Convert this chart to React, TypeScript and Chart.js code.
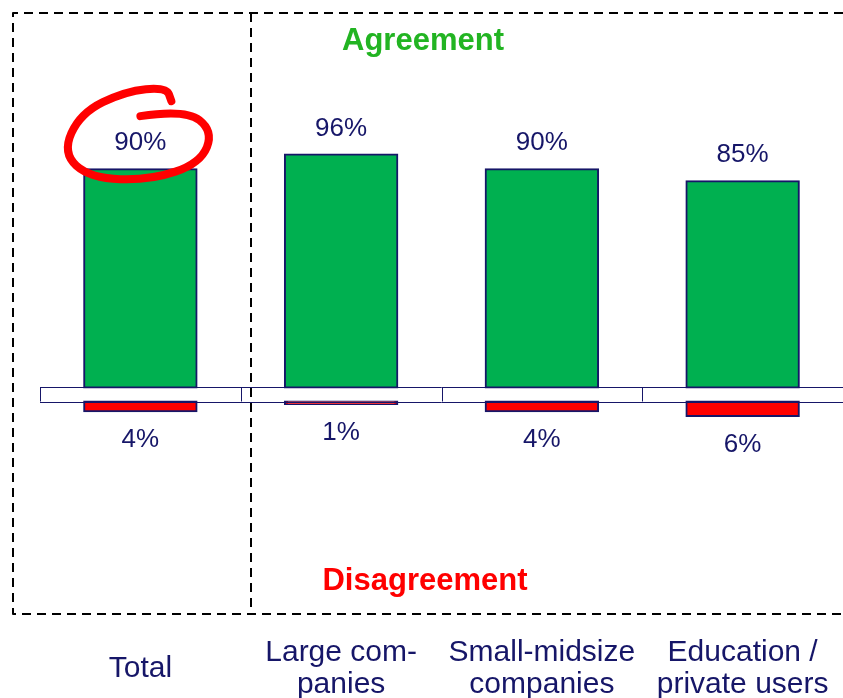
import React, { useEffect, useRef } from "react";
import { Chart, registerables } from "chart.js";

Chart.register(...registerables);

const CATEGORIES: string[][] = [
  ["Total"],
  ["Large com-", "panies"],
  ["Small-midsize", "companies"],
  ["Education /", "private users"],
];
const AGREEMENT = [90, 96, 90, 85];
const DISAGREEMENT = [4, 1, 4, 6];
const GAP = 5.8; // visual gap (in % units) between the agreement and disagreement zones

const NAVY = "#161668";
const GREEN = "#00b050";
const RED = "#ff0000";
const FONT = "'Liberation Sans', Arial, sans-serif";

const decorPlugin = {
  id: "decor",
  afterDatasetsDraw(chart: any) {
    const ctx: CanvasRenderingContext2D = chart.ctx;
    const xs = chart.scales.x;
    const ys = chart.scales.y;
    const { left, right } = chart.chartArea;
    const y0 = ys.getPixelForValue(0);
    const y1 = ys.getPixelForValue(-GAP);

    ctx.save();
    // band
    ctx.strokeStyle = NAVY;
    ctx.lineWidth = 1;
    ctx.beginPath();
    ctx.moveTo(left, Math.round(y0) + 0.5);
    ctx.lineTo(right, Math.round(y0) + 0.5);
    ctx.moveTo(left, Math.round(y1) + 0.5);
    ctx.lineTo(right, Math.round(y1) + 0.5);
    for (let i = 0; i <= CATEGORIES.length; i++) {
      const px = Math.round(xs.getPixelForValue(i - 0.5)) + 0.5;
      ctx.moveTo(px, y0);
      ctx.lineTo(px, y1);
    }
    ctx.stroke();

    // value labels
    ctx.fillStyle = NAVY;
    ctx.font = `26px ${FONT}`;
    ctx.textAlign = "center";
    ctx.textBaseline = "middle";
    const m0 = chart.getDatasetMeta(0);
    m0.data.forEach((el: any, i: number) => {
      const top = Math.min(el.y, el.base);
      ctx.fillText(`${AGREEMENT[i]}%`, el.x, top - 26);
    });
    const m1 = chart.getDatasetMeta(1);
    m1.data.forEach((el: any, i: number) => {
      const bottom = Math.max(el.y, el.base);
      ctx.fillText(`${DISAGREEMENT[i]}%`, el.x, bottom + 29);
    });

    // red hand-drawn circle around the first label
    const first = m0.data[0];
    const cx = first.x;
    const cy = Math.min(first.y, first.base) - 26;
    const pts = [
      [0, -27], [45, -34], [73, -12], [60, 20], [10, 37], [-50, 35],
      [-78, 10], [-60, -30], [-15, -52], [26, -56], [31, -42],
    ].map(([dx, dy]) => [cx + dx, cy + dy]);
    ctx.strokeStyle = RED;
    ctx.lineWidth = 8;
    ctx.lineCap = "round";
    ctx.lineJoin = "round";
    ctx.beginPath();
    ctx.moveTo(pts[0][0], pts[0][1]);
    for (let i = 1; i < pts.length - 1; i++) {
      const mx = (pts[i][0] + pts[i + 1][0]) / 2;
      const my = (pts[i][1] + pts[i + 1][1]) / 2;
      ctx.quadraticCurveTo(pts[i][0], pts[i][1], mx, my);
    }
    const last = pts[pts.length - 1];
    ctx.lineTo(last[0], last[1]);
    ctx.stroke();

    // dashed frame
    ctx.strokeStyle = "#000";
    ctx.lineWidth = 2;
    ctx.lineCap = "butt";
    ctx.setLineDash([9, 6]);
    ctx.beginPath();
    ctx.moveTo(843, 13);
    ctx.lineTo(13, 13);
    ctx.lineTo(13, 614);
    ctx.lineTo(843, 614);
    ctx.moveTo(251, 13);
    ctx.lineTo(251, 614);
    ctx.stroke();
    ctx.setLineDash([]);

    // zone titles
    ctx.font = `bold 31px ${FONT}`;
    ctx.fillStyle = "#22b422";
    ctx.fillText("Agreement", 423, 41);
    ctx.fillStyle = RED;
    ctx.fillText("Disagreement", 425, 581);
    ctx.restore();
  },
};

export default function App() {
  const ref = useRef<HTMLCanvasElement | null>(null);
  useEffect(() => {
    if (!ref.current) return;
    const chart = new Chart(ref.current, {
      type: "bar",
      data: {
        labels: CATEGORIES,
        datasets: [
          {
            label: "Agreement",
            data: AGREEMENT,
            backgroundColor: GREEN,
            borderColor: NAVY,
            borderWidth: 2,
            inflateAmount: 1,
            borderSkipped: false,
            grouped: false,
            barPercentage: 0.56,
            categoryPercentage: 1,
          },
          {
            label: "Disagreement",
            data: DISAGREEMENT.map((v) => [-GAP, -GAP - v]) as any,
            backgroundColor: RED,
            borderColor: NAVY,
            borderWidth: 2,
            inflateAmount: 1,
            borderSkipped: false,
            grouped: false,
            barPercentage: 0.56,
            categoryPercentage: 1,
          },
        ],
      },
      options: {
        responsive: false,
        animation: false,
        layout: { padding: { left: 40, right: 0, top: 60, bottom: 0 } },
        plugins: {
          legend: { display: false },
          tooltip: { enabled: false },
          title: { display: false },
        },
        scales: {
          x: {
            grid: { display: false, drawTicks: false },
            border: { display: false },
            ticks: {
              color: NAVY,
              font: { family: FONT, size: 30, lineHeight: 1.07 },
              padding: 23,
              crossAlign: "center",
              maxRotation: 0,
              autoSkip: false,
            },
            afterFit: (scale: any) => {
              scale.height = 68;
              scale.paddingLeft = 0;
              scale.paddingRight = 0;
            },
          },
          y: {
            display: false,
            min: -100,
            max: 135,
          },
        },
      },
      plugins: [decorPlugin],
    });
    return () => chart.destroy();
  }, []);
  return (
    <div style={{ position: "absolute", left: 0, top: 0, width: 843, height: 698, background: "#fff" }}>
      <canvas ref={ref} width={843} height={698} />
    </div>
  );
}
